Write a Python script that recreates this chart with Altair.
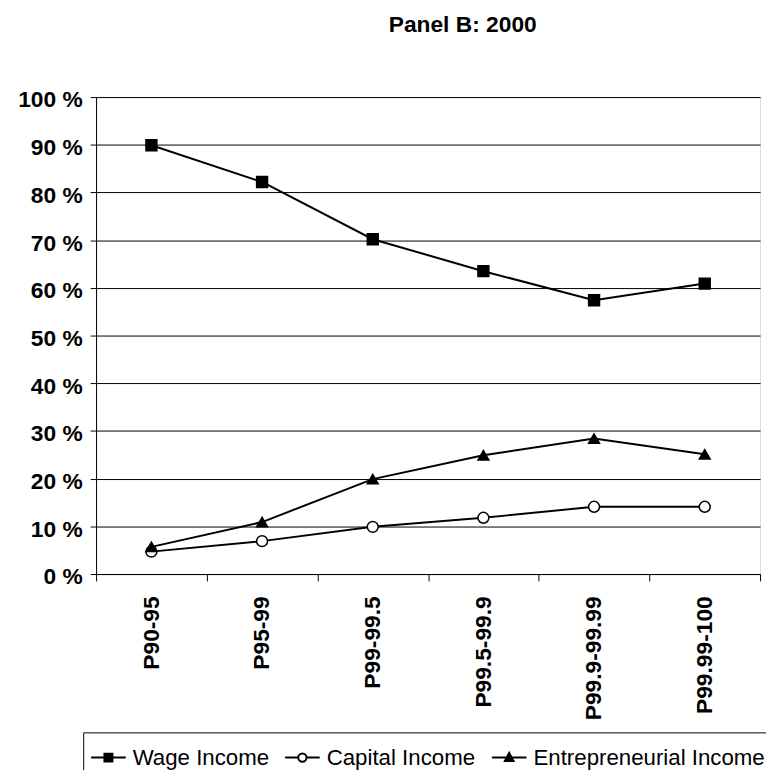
import altair as alt
import pandas as pd

categories = ["P90-95", "P95-99", "P99-99.5", "P99.5-99.9", "P99.9-99.99", "P99.99-100"]
series_names = ["Wage Income", "Capital Income", "Entrepreneurial Income"]
wage = [89.9, 82.2, 70.2, 63.5, 57.4, 60.9]
capital = [4.7, 6.9, 9.9, 11.8, 14.1, 14.1]
entrepreneurial = [5.7, 10.9, 19.9, 24.9, 28.4, 25.1]

rows = []
for name, vals in zip(series_names, [wage, capital, entrepreneurial]):
    for c, v in zip(categories, vals):
        rows.append({"group": c, "series": name, "share": v})
df = pd.DataFrame(rows)

FONT = "Liberation Sans"
FS = 23

x_enc = alt.X("group:N", sort=categories, title=None,
              scale=alt.Scale(paddingInner=0, paddingOuter=0),
              axis=alt.Axis(labelAngle=270, labelAlign="right", labelBaseline="middle",
                            labelFontSize=FS, labelFontWeight="bold", labelColor="black",
                            labelFont=FONT, tickBand="extent", tickSize=7, tickColor="black",
                            domainColor="black", labelPadding=15, grid=False))
y_enc = alt.Y("share:Q", title=None,
              scale=alt.Scale(domain=[0, 100], nice=False, zero=True),
              axis=alt.Axis(values=list(range(0, 101, 10)), labelExpr="datum.value + ' %'",
                            labelFontSize=FS, labelFontWeight="bold", labelColor="black",
                            labelFont=FONT, tickSize=6, tickColor="black", domainColor="black",
                            labelPadding=8, labelOffset=3, grid=True, gridColor="black", gridWidth=1))

lines = alt.Chart(df).mark_line(color="black", strokeWidth=2).encode(
    x=x_enc, y=y_enc, detail="series:N"
)

points = alt.Chart(df).mark_point(filled=True, size=121, stroke="black", strokeWidth=1.5, opacity=1).encode(
    x=x_enc, y=y_enc,
    shape=alt.Shape("series:N", scale=alt.Scale(domain=series_names,
                                                range=["square", "circle", "triangle-up"]), legend=None),
    fill=alt.Fill("series:N", scale=alt.Scale(domain=series_names,
                                              range=["black", "white", "black"]), legend=None),
)

sq = "M-1,0H1M-0.23,-0.23H0.23V0.23H-0.23Z"
ci = "M-1,0H-0.24M0.24,0H1M0.24,0A0.24,0.24,0,1,1,-0.24,0A0.24,0.24,0,1,1,0.24,0Z"
tr = "M-1,0H1M0,-0.27L0.25,0.2L-0.25,0.2Z"

leg = alt.Legend(title=None, orient="none", legendX=-13, legendY=642, direction="horizontal",
                 strokeColor="black", padding=7, columnPadding=12, labelOffset=6,
                 labelFont=FONT, labelFontSize=22.5, labelColor="black", labelLimit=400,
                 symbolSize=1225, symbolStrokeWidth=2, symbolStrokeColor="black",
                 symbolOpacity=1, fillColor="white")

dummy = alt.Chart(df).transform_calculate(lseries="datum.series").mark_point(
    filled=True, opacity=0, strokeWidth=2, size=1225).encode(
    x=x_enc, y=y_enc,
    shape=alt.Shape("lseries:N", scale=alt.Scale(domain=series_names, range=[sq, ci, tr]), legend=leg),
    fill=alt.Fill("lseries:N", scale=alt.Scale(domain=series_names,
                                               range=["black", "white", "black"]), legend=leg),
    stroke=alt.Stroke("lseries:N", scale=alt.Scale(domain=series_names,
                                                   range=["black", "black", "black"]), legend=leg),
)

chart = alt.layer(lines, points, dummy).resolve_scale(
    shape="independent", fill="independent", stroke="independent"
).properties(
    width=671, height=482,
    title=alt.Title("Panel B: 2000", fontSize=FS, fontWeight="bold", font=FONT, color="black",
                    anchor="middle", dx=35, offset=53),
    autosize=alt.AutoSizeParams(type="none"),
    padding={"left": 89, "top": 86, "right": 6, "bottom": 194},
).configure_view(stroke="black", strokeWidth=1).configure(font=FONT, background="white")

chart.save("out.html", embed_options={"renderer": "svg", "actions": False})
